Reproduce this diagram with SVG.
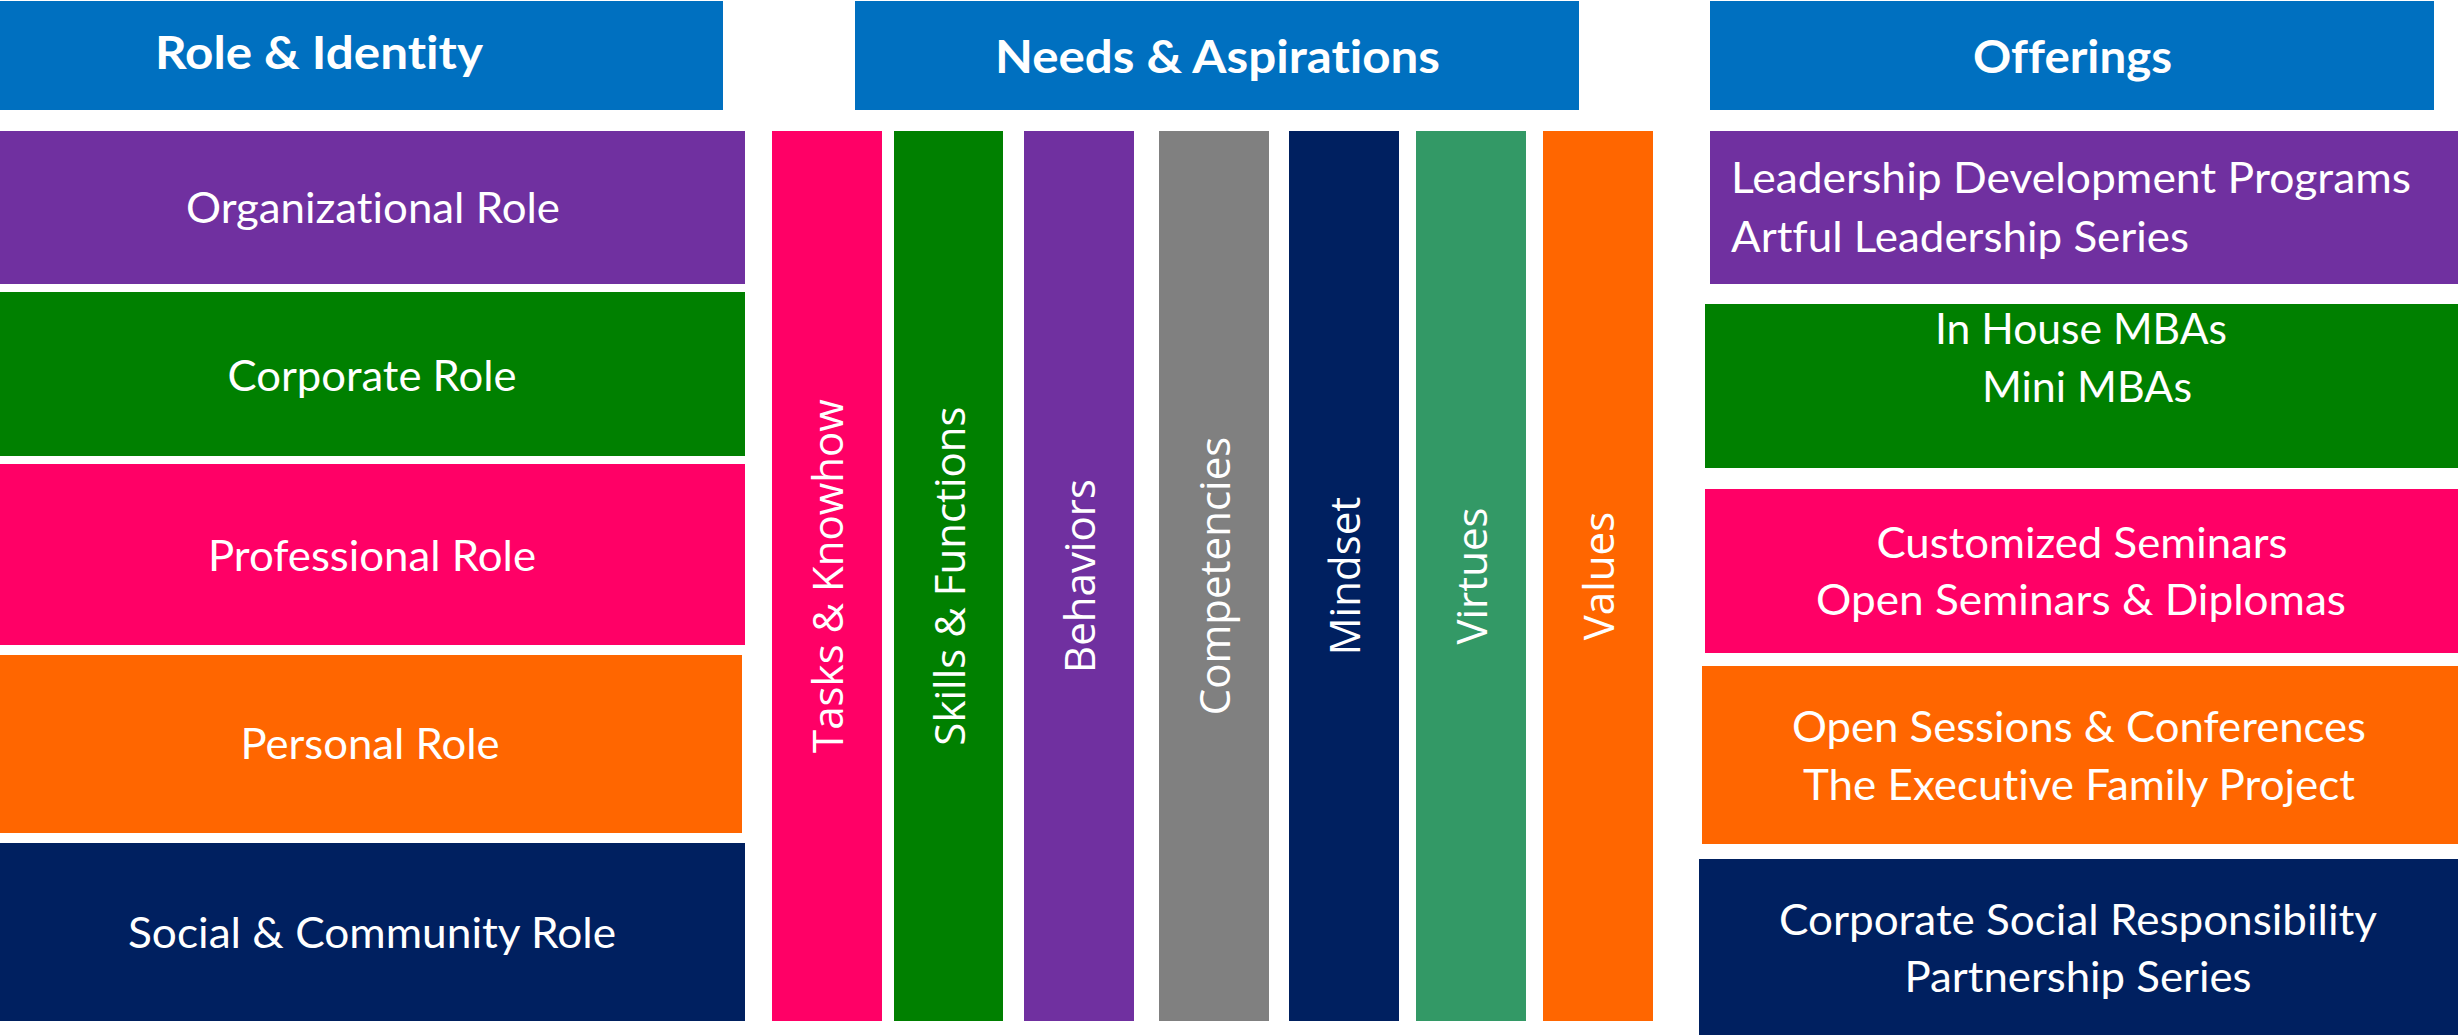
<svg xmlns="http://www.w3.org/2000/svg" width="2458" height="1035" viewBox="0 0 2458 1035">
<style>
.hdr{fill:#0070C0}
.pur{fill:#7030A0}
.grn{fill:#008000}
.pnk{fill:#FF0066}
.org{fill:#FF6600}
.nvy{fill:#002060}
.gry{fill:#808080}
.sea{fill:#339966}
text{font-variant-ligatures:none}
.ht{font-family:Lato,"Open Sans","Liberation Sans",sans-serif;font-weight:bold;font-size:46px;fill:#fff}
.bt{font-family:Lato,"Open Sans","Liberation Sans",sans-serif;font-size:42px;fill:#fff}
.vt{font-family:"Open Sans","DejaVu Sans",sans-serif;font-size:42px;fill:#fff;text-anchor:middle}
.m{text-anchor:middle}
</style>
<rect width="2458" height="1035" fill="#fff"/>
<g id="header-role">
<rect class="hdr" x="0" y="1" width="723" height="109"/>
<text class="ht" x="155" y="68.5" textLength="328" lengthAdjust="spacingAndGlyphs">Role &amp; Identity</text>
</g>
<g id="header-needs">
<rect class="hdr" x="855" y="1" width="724" height="109"/>
<text class="ht" x="995" y="72.7" textLength="445" lengthAdjust="spacingAndGlyphs">Needs &amp; Aspirations</text>
</g>
<g id="header-offerings">
<rect class="hdr" x="1710" y="1" width="724" height="109"/>
<text class="ht" x="1973" y="72.7" textLength="199" lengthAdjust="spacingAndGlyphs">Offerings</text>
</g>

<g id="organizational-role">
<rect class="pur" x="0" y="131" width="745" height="153"/>
<text class="bt m" x="373" y="222.5" textLength="374" lengthAdjust="spacingAndGlyphs">Organizational Role</text>
</g>
<g id="corporate-role">
<rect class="grn" x="0" y="292" width="745" height="164"/>
<text class="bt m" x="372" y="391" textLength="289" lengthAdjust="spacingAndGlyphs">Corporate Role</text>
</g>
<g id="professional-role">
<rect class="pnk" x="0" y="464" width="745" height="181"/>
<text class="bt m" x="372" y="571" textLength="328" lengthAdjust="spacingAndGlyphs">Professional Role</text>
</g>
<g id="personal-role">
<rect class="org" x="0" y="655" width="742" height="178"/>
<text class="bt m" x="370" y="759" textLength="259" lengthAdjust="spacingAndGlyphs">Personal Role</text>
</g>
<g id="social-role">
<rect class="nvy" x="0" y="843" width="745" height="178"/>
<text class="bt m" x="372" y="948" textLength="488" lengthAdjust="spacingAndGlyphs">Social &amp; Community Role</text>
</g>

<g id="tasks">
<rect class="pnk" x="772" y="131" width="110" height="890"/>
<text class="vt" transform="translate(843,576) rotate(-90)">Tasks &amp; Knowhow</text>
</g>
<g id="skills">
<rect class="grn" x="894" y="131" width="109" height="890"/>
<text class="vt" transform="translate(965,576) rotate(-90)">Skills &amp; Functions</text>
</g>
<g id="behaviors">
<rect class="pur" x="1024" y="131" width="110" height="890"/>
<text class="vt" transform="translate(1095,576) rotate(-90)">Behaviors</text>
</g>
<g id="competencies">
<rect class="gry" x="1159" y="131" width="110" height="890"/>
<text class="vt" transform="translate(1230,576) rotate(-90)">Competencies</text>
</g>
<g id="mindset">
<rect class="nvy" x="1289" y="131" width="110" height="890"/>
<text class="vt" transform="translate(1360,576) rotate(-90)">Mindset</text>
</g>
<g id="virtues">
<rect class="sea" x="1416" y="131" width="110" height="890"/>
<text class="vt" transform="translate(1487,576) rotate(-90)">Virtues</text>
</g>
<g id="values">
<rect class="org" x="1543" y="131" width="110" height="890"/>
<text class="vt" transform="translate(1614,576) rotate(-90)">Values</text>
</g>

<g id="offer-leadership">
<rect class="pur" x="1710" y="131" width="748" height="153"/>
<text class="bt" x="1731" y="193" textLength="680" lengthAdjust="spacingAndGlyphs">Leadership Development Programs</text>
<text class="bt" x="1731" y="252" textLength="458" lengthAdjust="spacingAndGlyphs">Artful Leadership Series</text>
</g>
<g id="offer-mba">
<rect class="grn" x="1705" y="304" width="753" height="164"/>
<text class="bt m" x="2081" y="344" textLength="292" lengthAdjust="spacingAndGlyphs">In House MBAs</text>
<text class="bt m" x="2087" y="402" textLength="210" lengthAdjust="spacingAndGlyphs">Mini MBAs</text>
</g>
<g id="offer-seminars">
<rect class="pnk" x="1705" y="489" width="753" height="164"/>
<text class="bt m" x="2082" y="558" textLength="411" lengthAdjust="spacingAndGlyphs">Customized Seminars</text>
<text class="bt m" x="2081" y="615" textLength="530" lengthAdjust="spacingAndGlyphs">Open Seminars &amp; Diplomas</text>
</g>
<g id="offer-sessions">
<rect class="org" x="1702" y="666" width="756" height="178"/>
<text class="bt m" x="2079" y="742" textLength="574" lengthAdjust="spacingAndGlyphs">Open Sessions &amp; Conferences</text>
<text class="bt m" x="2079" y="800" textLength="552" lengthAdjust="spacingAndGlyphs">The Executive Family Project</text>
</g>
<g id="offer-csr">
<rect class="nvy" x="1699" y="859" width="759" height="176"/>
<text class="bt m" x="2078" y="935" textLength="598" lengthAdjust="spacingAndGlyphs">Corporate Social Responsibility</text>
<text class="bt m" x="2078" y="992" textLength="347" lengthAdjust="spacingAndGlyphs">Partnership Series</text>
</g>
<g id="connectors"></g>
</svg>
